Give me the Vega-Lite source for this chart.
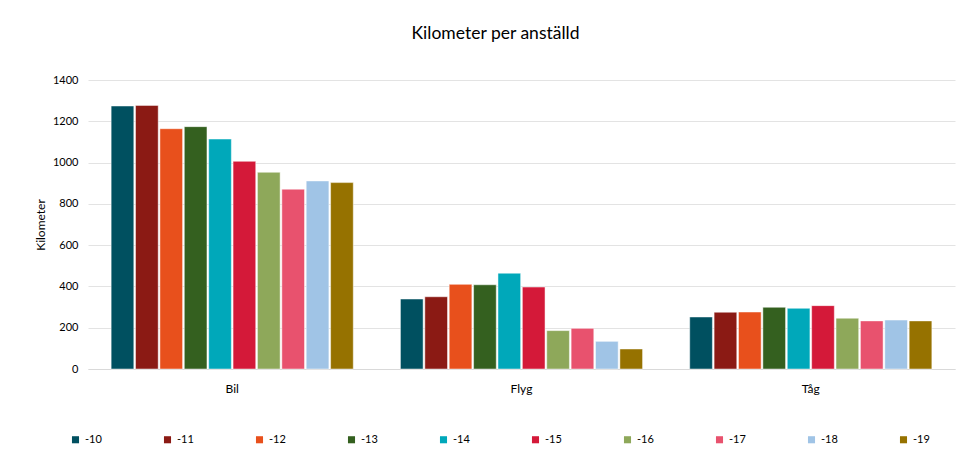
{
  "$schema": "https://vega.github.io/schema/vega-lite/v6.json",
  "autosize": {"type": "none"},
  "padding": {"left": 88, "top": 80, "right": 16, "bottom": 101},
  "width": 867,
  "height": 289,
  "title": {"text": "Kilometer per anställd", "fontSize": 17.5, "font": "Lato", "fontWeight": "normal", "color": "#000000", "offset": 32, "dx": -26},
  "data": {"values": [
    {"kategori": "Bil", "år": "-10", "km": 1274},
    {"kategori": "Bil", "år": "-11", "km": 1277},
    {"kategori": "Bil", "år": "-12", "km": 1164},
    {"kategori": "Bil", "år": "-13", "km": 1174},
    {"kategori": "Bil", "år": "-14", "km": 1114},
    {"kategori": "Bil", "år": "-15", "km": 1006},
    {"kategori": "Bil", "år": "-16", "km": 953},
    {"kategori": "Bil", "år": "-17", "km": 871},
    {"kategori": "Bil", "år": "-18", "km": 911},
    {"kategori": "Bil", "år": "-19", "km": 903},
    {"kategori": "Flyg", "år": "-10", "km": 339},
    {"kategori": "Flyg", "år": "-11", "km": 350},
    {"kategori": "Flyg", "år": "-12", "km": 410},
    {"kategori": "Flyg", "år": "-13", "km": 408},
    {"kategori": "Flyg", "år": "-14", "km": 464},
    {"kategori": "Flyg", "år": "-15", "km": 397},
    {"kategori": "Flyg", "år": "-16", "km": 186},
    {"kategori": "Flyg", "år": "-17", "km": 197},
    {"kategori": "Flyg", "år": "-18", "km": 134},
    {"kategori": "Flyg", "år": "-19", "km": 97},
    {"kategori": "Tåg", "år": "-10", "km": 252},
    {"kategori": "Tåg", "år": "-11", "km": 275},
    {"kategori": "Tåg", "år": "-12", "km": 276},
    {"kategori": "Tåg", "år": "-13", "km": 299},
    {"kategori": "Tåg", "år": "-14", "km": 294},
    {"kategori": "Tåg", "år": "-15", "km": 307},
    {"kategori": "Tåg", "år": "-16", "km": 246},
    {"kategori": "Tåg", "år": "-17", "km": 233},
    {"kategori": "Tåg", "år": "-18", "km": 237},
    {"kategori": "Tåg", "år": "-19", "km": 233}
  ]},
  "mark": {"type": "bar", "stroke": "#ffffff", "strokeWidth": 0.8, "strokeOpacity": 0.6},
  "encoding": {
    "x": {"field": "kategori", "type": "nominal", "sort": ["Bil", "Flyg", "Tåg"],
      "scale": {"paddingInner": 0.163, "paddingOuter": 0.08},
      "axis": {"title": null, "labelAngle": 0, "ticks": false, "labelPadding": 14, "labelFontSize": 12, "labelFont": "Lato", "labelColor": "#000000", "domainColor": "#d9d9d9", "domainWidth": 1}},
    "xOffset": {"field": "år", "type": "nominal", "scale": {"paddingInner": 0.07, "paddingOuter": 0}},
    "y": {"field": "km", "type": "quantitative",
      "scale": {"domain": [0, 1400], "nice": false},
      "axis": {"title": "Kilometer", "format": "d", "values": [0, 200, 400, 600, 800, 1000, 1200, 1400], "ticks": false, "domain": false, "labelPadding": 10, "labelFontSize": 11, "labelFont": "Lato", "labelColor": "#000000", "gridColor": "#e3e3e3", "titleFont": "Lato", "titleFontSize": 12, "titleFontWeight": "normal", "titleColor": "#000000", "titlePadding": 5}},
    "color": {"field": "år", "type": "nominal",
      "scale": {"domain": ["-10", "-11", "-12", "-13", "-14", "-15", "-16", "-17", "-18", "-19"],
        "range": ["#005060", "#8B1A14", "#E8501C", "#34601F", "#00A8BA", "#D41939", "#8EA85A", "#E8526E", "#A0C4E6", "#967200"]},
      "legend": {"title": null, "orient": "none", "legendX": -18, "legendY": 354, "direction": "horizontal", "columns": 10, "symbolType": "square", "symbolSize": 50, "symbolStrokeWidth": 0, "labelFont": "Lato", "labelFontSize": 11, "labelColor": "#000000", "columnPadding": 60, "labelOffset": 4}}
  },
  "config": {"view": {"stroke": null}, "font": "Lato"}
}
